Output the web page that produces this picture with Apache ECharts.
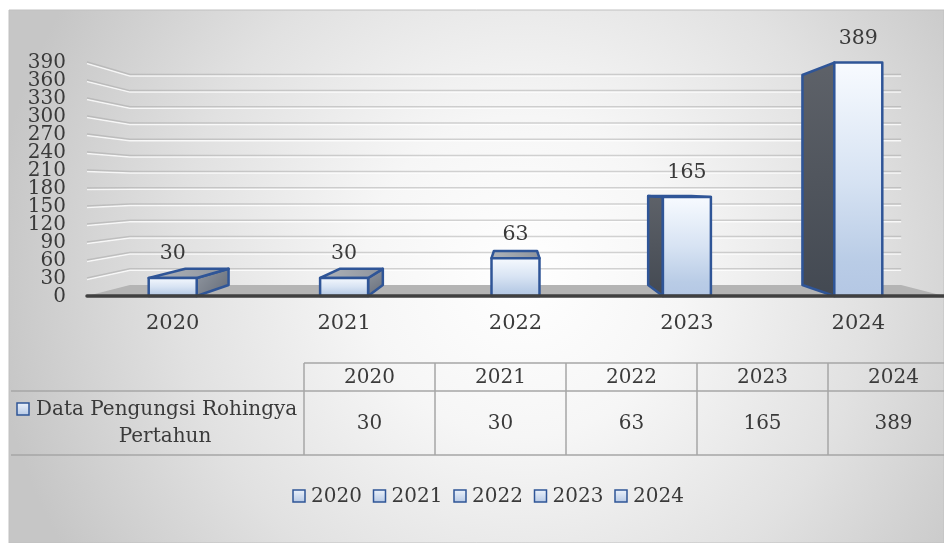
<!DOCTYPE html>
<html>
<head>
<meta charset="utf-8">
<script src="https://cdn.jsdelivr.net/npm/echarts@6/dist/echarts.min.js"></script>
<style>
  html, body { margin: 0; padding: 0; background: #fff; }
  #chart { width: 944px; height: 543px; }
</style>
</head>
<body>
<div id="chart"></div>
<script>
// data
const years = ['2020', '2021', '2022', '2023', '2024'];
const pengungsi = [30, 30, 63, 165, 389];
const yTicks = [0, 30, 60, 90, 120, 150, 180, 210, 240, 270, 300, 330, 360, 390];
const seriesName = 'Data Pengungsi Rohingya Pertahun';
const rowLabel = ['Data Pengungsi Rohingya', 'Pertahun'];

// tampilan 3D
const depth = 0.9;        // skala dinding belakang
const eyeValue = 183;     // tinggi mata (nilai sumbu y)
const barRatio = 0.28;
const font = '"DejaVu Serif", serif';
const textColor = '#3a3a3a';
const blue = '#2f5597';

const frontFill = {
    type: 'linear', x: 0, y: 0, x2: 0, y2: 1,
    colorStops: [
        { offset: 0, color: '#f8fbff' },
        { offset: 0.5, color: '#d7e3f3' },
        { offset: 0.85, color: '#b9cce6' },
        { offset: 1, color: '#b4c7e4' }
    ]
};

function vanishing(api) {
    return [api.coord([(years.length - 1) / 2, 0])[0], api.coord([0, eyeValue])[1]];
}

function toBack(p, vp) {
    return [vp[0] + (p[0] - vp[0]) * depth, vp[1] + (p[1] - vp[1]) * depth];
}

// dinding belakang + lantai + label sumbu y
function renderWall(params, api) {
    let v = api.value(1);
    let cs = params.coordSys;
    let vp = vanishing(api);
    let fy = api.coord([0, v])[1];
    let fl = [cs.x, fy];
    let fr = [cs.x + cs.width, fy];
    let bl = toBack(fl, vp);
    let br = toBack(fr, vp);
    let label = { type: 'text', style: { text: String(v), x: cs.x - 21, y: fy + 1,
        font: '20px ' + font, fill: textColor, align: 'right', verticalAlign: 'middle' } };
    if (v === 0) {
        return {
            type: 'group',
            children: [
                { type: 'polygon', shape: { points: [fl, fr, br, bl] }, style: { fill: '#b4b4b4' } },
                label
            ]
        };
    }
    return {
        type: 'group',
        children: [
            { type: 'polyline', shape: { points: [[fl[0], fl[1] + 1.5], [bl[0], bl[1] + 1.5], [br[0], br[1] + 1.5]] },
              style: { stroke: 'rgba(255,255,255,0.8)', lineWidth: 1.5, fill: null } },
            { type: 'polyline', shape: { points: [fl, bl, br] },
              style: { stroke: 'rgba(160,160,160,0.45)', lineWidth: 1.5, fill: null } },
            label
        ]
    };
}

// batang 3D
function renderBar(params, api) {
    let i = api.value(0);
    let v = api.value(1);
    let top = api.coord([i, v]);
    let base = api.coord([i, 0]);
    let w = api.size([1, 0])[0] * barRatio;
    let x0 = top[0] - w / 2, x1 = top[0] + w / 2;
    let vp = vanishing(api);

    let ftl = [x0, top[1]], ftr = [x1, top[1]], fbl = [x0, base[1]], fbr = [x1, base[1]];
    let btl = toBack(ftl, vp), btr = toBack(ftr, vp), bbl = toBack(fbl, vp), bbr = toBack(fbr, vp);

    let kids = [];
    let edge = { stroke: blue, lineWidth: 2.5, lineJoin: 'round' };

    if (btr[0] > x1 + 1) {
        kids.push({ type: 'polygon', shape: { points: [ftr, btr, bbr, fbr] },
            style: Object.assign({ fill: { type: 'linear', x: 0, y: 0, x2: 1, y2: 1,
                colorStops: [{ offset: 0, color: '#9399a2' }, { offset: 1, color: '#646b77' }] } }, edge) });
    } else if (btl[0] < x0 - 1) {
        kids.push({ type: 'polygon', shape: { points: [btl, ftl, fbl, bbl] },
            style: Object.assign({ fill: { type: 'linear', x: 0, y: 0, x2: 0, y2: 1,
                colorStops: [{ offset: 0, color: '#5e6269' }, { offset: 1, color: '#434952' }] } }, edge) });
    }
    if (btl[1] < ftl[1] - 0.5) {
        kids.push({ type: 'polygon', shape: { points: [ftl, ftr, btr, btl] },
            style: Object.assign({ fill: { type: 'linear', x: 0, y: 0, x2: 1, y2: 0,
                colorStops: [{ offset: 0, color: '#b0b4ba' }, { offset: 1, color: '#8d939c' }] } }, edge) });
    }
    kids.push({ type: 'rect', shape: { x: x0, y: top[1], width: w, height: base[1] - top[1] },
        style: Object.assign({ fill: frontFill }, edge) });
    kids.push({ type: 'text', style: { text: String(v), x: top[0], y: top[1] - 24,
        font: '20.5px ' + font, fill: textColor, align: 'center', verticalAlign: 'middle' } });
    return { type: 'group', children: kids };
}

// tabel data + legenda (dibangun dari array)
function buildGraphic() {
    let g = [];
    let tLeft = 304, colW = 131, headTop = 363, rowTop = 391, rowBot = 455, cellLeft = 11;
    let line = { stroke: '#a6a6a6', lineWidth: 1.5 };
    let keyFill = { type: 'linear', x: 0, y: 0, x2: 0, y2: 1,
        colorStops: [{ offset: 0, color: '#eef4fc' }, { offset: 1, color: '#b4c7e4' }] };

    g.push({ type: 'rect', z: -100, shape: { x: 9, y: 10, width: 935, height: 533 },
        style: { fill: { type: 'radial', x: 0.55, y: 0.5, r: 1,
            colorStops: [{ offset: 0, color: '#ffffff' }, { offset: 0.3, color: '#f6f6f6' },
                         { offset: 0.65, color: '#e1e1e1' }, { offset: 1, color: '#c6c6c6' }] },
            stroke: '#c0c0c0', lineWidth: 1 } });

    g.push({ type: 'line', shape: { x1: tLeft, y1: headTop, x2: 944, y2: headTop }, style: line });
    g.push({ type: 'line', shape: { x1: cellLeft, y1: rowTop, x2: 944, y2: rowTop }, style: line });
    g.push({ type: 'line', shape: { x1: cellLeft, y1: rowBot, x2: 944, y2: rowBot }, style: line });
    years.forEach((y, i) => {
        let cx = tLeft + i * colW;
        g.push({ type: 'line', shape: { x1: cx, y1: headTop, x2: cx, y2: rowBot }, style: line });
        g.push({ type: 'text', z: 10, style: { text: y, x: cx + colW / 2, y: (headTop + rowTop) / 2 + 1,
            font: '20px ' + font, fill: textColor, align: 'center', verticalAlign: 'middle' } });
        g.push({ type: 'text', z: 10, style: { text: String(pengungsi[i]), x: cx + colW / 2, y: (rowTop + rowBot) / 2 + 1,
            font: '20px ' + font, fill: textColor, align: 'center', verticalAlign: 'middle' } });
    });

    g.push({ type: 'rect', z: 10, shape: { x: 17, y: 403, width: 12, height: 12 },
        style: { fill: keyFill, stroke: blue, lineWidth: 1.5 } });
    g.push({ type: 'text', z: 10, style: { text: rowLabel[0], x: 36, y: 410,
        font: '20px ' + font, fill: textColor, align: 'left', verticalAlign: 'middle' } });
    g.push({ type: 'text', z: 10, style: { text: rowLabel[1], x: 165, y: 437,
        font: '20px ' + font, fill: textColor, align: 'center', verticalAlign: 'middle' } });

    years.forEach((y, i) => {
        let lx = 293 + i * 80.5;
        g.push({ type: 'rect', z: 10, shape: { x: lx, y: 490, width: 12, height: 12 },
            style: { fill: keyFill, stroke: blue, lineWidth: 1.5 } });
        g.push({ type: 'text', z: 10, style: { text: y, x: lx + 18, y: 497,
            font: '20px ' + font, fill: textColor, align: 'left', verticalAlign: 'middle' } });
    });
    return g;
}

let chart = echarts.init(document.getElementById('chart'));

let option = {
    backgroundColor: '#ffffff',
    animation: false,
    grid: { left: 87, right: 0, top: 62, bottom: 247 },
    xAxis: {
        type: 'category',
        data: years,
        axisLine: { lineStyle: { color: '#404040', width: 3.5 } },
        axisTick: { show: false },
        axisLabel: { margin: 17, color: textColor, fontFamily: font, fontSize: 21 },
        z: 5
    },
    yAxis: {
        type: 'value',
        min: 0,
        max: 390,
        interval: 30,
        axisLine: { show: false },
        axisTick: { show: false },
        splitLine: { show: false },
        axisLabel: { show: false }
    },
    graphic: buildGraphic(),
    series: [
        {
            type: 'custom',
            name: 'dinding',
            z: 1,
            silent: true,
            clip: false,
            data: yTicks.map(v => [0, v]),
            renderItem: renderWall
        },
        {
            type: 'custom',
            name: seriesName,
            z: 3,
            clip: false,
            data: pengungsi.map((v, i) => [i, v]),
            renderItem: renderBar
        }
    ]
};

chart.setOption(option);
</script>
</body>
</html>
